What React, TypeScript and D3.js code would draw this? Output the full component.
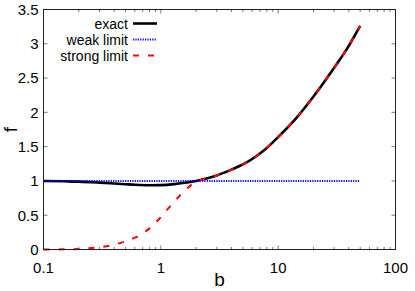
import React from "react";
import * as d3 from "d3";

const W = 415;
const H = 291;

const exactB = [0.1, 0.15, 0.2, 0.3, 0.4, 0.5, 0.6, 0.8, 1.0, 1.3, 1.6, 2.0, 2.5, 3.0, 4.0, 5.0, 6.0, 7.5, 10, 15, 20, 30, 40, 50];
const exactF = [1.0, 0.995, 0.99, 0.975, 0.962, 0.952, 0.944, 0.937, 0.939, 0.953, 0.973, 1.0, 1.04, 1.08, 1.165, 1.24, 1.32, 1.44, 1.64, 1.96, 2.23, 2.65, 2.97, 3.26];

const weakB = [0.1, 50];
const weakF = [1.0, 1.0];

const strongB = [0.1, 0.15, 0.2, 0.3, 0.4, 0.5, 0.6, 0.75, 0.95, 1.2, 1.5, 2.0, 2.5, 3.0, 4.0, 5.0, 6.0, 7.5, 10, 15, 20, 30, 40, 50];
const strongF = [0.0, 0.002, 0.008, 0.034, 0.07, 0.12, 0.172, 0.27, 0.43, 0.63, 0.81, 0.99, 1.035, 1.08, 1.165, 1.24, 1.32, 1.44, 1.64, 1.96, 2.23, 2.65, 2.97, 3.26];

const xTicks = [0.1, 1, 10, 100];
const xTickLabels = ["0.1", "1", "10", "100"];
const yTicks = [0, 0.5, 1, 1.5, 2, 2.5, 3, 3.5];
const yTickLabels = ["0", "0.5", "1", "1.5", "2", "2.5", "3", "3.5"];

const legendLabels = ["exact", "weak limit", "strong limit"];

const left = 43.5, right = 395.5, top = 9.5, bottom = 249.5;

export default function App() {
  const x = d3.scaleLog().domain([0.1, 100]).range([left, right]);
  const y = d3.scaleLinear().domain([0, 3.5]).range([bottom, top]);
  const line = d3
    .line<[number, number]>()
    .x((d) => x(d[0]))
    .y((d) => y(d[1]))
    .curve(d3.curveMonotoneX);

  const exactPts = exactB.map((b, i) => [b, exactF[i]] as [number, number]);
  const weakPts = weakB.map((b, i) => [b, weakF[i]] as [number, number]);
  const strongPts = strongB.map((b, i) => [b, strongF[i]] as [number, number]);

  const minor: number[] = [];
  for (const dec of [0.1, 1, 10]) {
    for (let k = 2; k <= 9; k++) minor.push(dec * k);
  }

  const font = "'Liberation Sans', Arial, Helvetica, sans-serif";
  const tickColor = "#777";
  const styles = [
    { stroke: "#000", width: 2.6, dash: "none" },
    { stroke: "#0000ff", width: 2, dash: "1.2,1.2" },
    { stroke: "#ff0000", width: 2, dash: "6,9" },
  ];
  const legendY = [23.5, 39.5, 55.5];

  return (
    <svg width={W} height={H} style={{ position: "absolute", left: 0, top: 0 }} fontFamily={font}>
      <rect x={0} y={0} width={W} height={H} fill="#fff" />
      {xTicks.map((t) => (
        <g key={"xt" + t}>
          <line x1={x(t)} x2={x(t)} y1={bottom} y2={bottom - 4} stroke={tickColor} />
          <line x1={x(t)} x2={x(t)} y1={top} y2={top + 4} stroke={tickColor} />
        </g>
      ))}
      {minor.map((t) => (
        <g key={"xm" + t}>
          <line x1={x(t)} x2={x(t)} y1={bottom} y2={bottom - 2.5} stroke={tickColor} />
          <line x1={x(t)} x2={x(t)} y1={top} y2={top + 2.5} stroke={tickColor} />
        </g>
      ))}
      {yTicks.map((t) => (
        <g key={"yt" + t}>
          <line x1={left} x2={left + 4} y1={y(t)} y2={y(t)} stroke={tickColor} />
          <line x1={right} x2={right - 4} y1={y(t)} y2={y(t)} stroke={tickColor} />
        </g>
      ))}
      {xTicks.map((t, i) => (
        <text key={"xl" + t} x={x(t)} y={272.5} fontSize={15} textAnchor="middle" fill="#000">
          {xTickLabels[i]}
        </text>
      ))}
      {yTicks.map((t, i) => (
        <text key={"yl" + t} x={38.5} y={y(t) + 5.3} fontSize={15} textAnchor="end" fill="#000">
          {yTickLabels[i]}
        </text>
      ))}
      <text x={(left + right) / 2} y={286} fontSize={19} textAnchor="middle" fill="#000">b</text>
      <text transform={`translate(16.5,${(top + bottom) / 2}) rotate(-90)`} fontSize={19} textAnchor="middle" fill="#000">f</text>
      <path d={line(exactPts) || ""} fill="none" stroke={styles[0].stroke} strokeWidth={styles[0].width} />
      <path d={line(weakPts) || ""} fill="none" stroke={styles[1].stroke} strokeWidth={styles[1].width} strokeDasharray={styles[1].dash} />
      <path d={line(strongPts) || ""} fill="none" stroke={styles[2].stroke} strokeWidth={styles[2].width} strokeDasharray={styles[2].dash} />
      {legendLabels.map((lab, i) => (
        <g key={lab}>
          <text x={128} y={legendY[i] + 5} fontSize={14} textAnchor="end" fill="#000">{lab}</text>
          <line x1={133} x2={157} y1={legendY[i]} y2={legendY[i]} stroke={styles[i].stroke} strokeWidth={styles[i].width} strokeDasharray={styles[i].dash} />
        </g>
      ))}
      <rect x={left} y={top} width={right - left} height={bottom - top} fill="none" stroke="#222" strokeWidth={1} />
    </svg>
  );
}
